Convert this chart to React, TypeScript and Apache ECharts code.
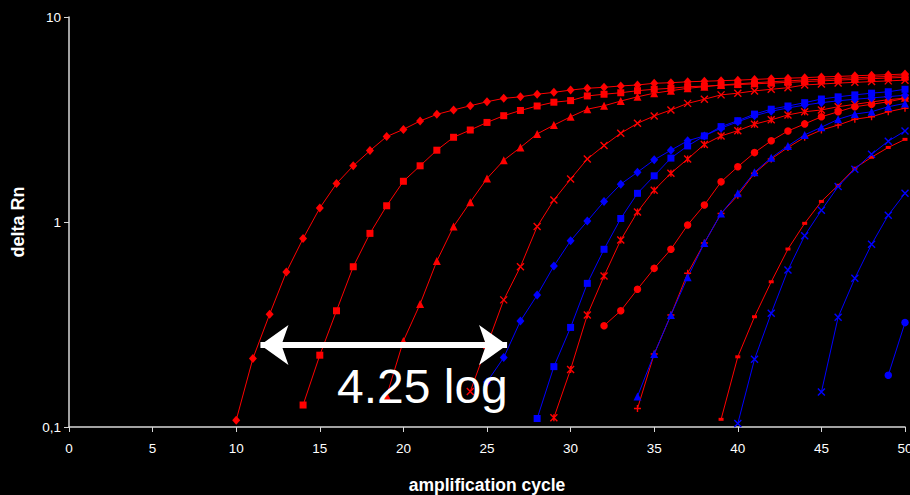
import React, { useEffect, useRef } from "react";
import * as echarts from "echarts";

const RED = "#ff0000";
const BLUE = "#0000ff";

const xTicks = [0, 5, 10, 15, 20, 25, 30, 35, 40, 45, 50];
const yTicks = [0.1, 1, 10];

// start cycle + values (delta Rn) per curve
const redDiamondStart = 10;
const redDiamond = [0.108, 0.216, 0.355, 0.57, 0.83, 1.17, 1.54, 1.88, 2.23, 2.61, 2.83, 3.11, 3.35, 3.52, 3.69, 3.86, 4.01, 4.08, 4.2, 4.29, 4.4, 4.49, 4.54, 4.61, 4.66, 4.75, 4.78, 4.83, 4.86, 4.89, 4.92, 4.96, 5.0, 5.03, 5.06, 5.1, 5.13, 5.17, 5.2, 5.23, 5.27];

const redSquareStart = 14;
const redSquare = [0.128, 0.224, 0.369, 0.605, 0.88, 1.2, 1.58, 1.88, 2.24, 2.59, 2.81, 3.06, 3.3, 3.5, 3.68, 3.84, 3.91, 4.12, 4.2, 4.27, 4.37, 4.44, 4.49, 4.57, 4.6, 4.64, 4.68, 4.72, 4.76, 4.8, 4.84, 4.88, 4.92, 4.96, 5.0, 5.04, 5.08];

const redTriangleStart = 19;
const redTriangle = [0.142, 0.263, 0.398, 0.645, 0.95, 1.25, 1.63, 2.0, 2.31, 2.69, 2.97, 3.26, 3.55, 3.69, 3.89, 4.08, 4.25, 4.37, 4.49, 4.57, 4.66, 4.72, 4.78, 4.83, 4.88, 4.93, 4.97, 5.01, 5.05, 5.09, 5.13, 5.17];

const redCrossStart = 24;
const redCross = [0.149, 0.25, 0.417, 0.605, 0.95, 1.28, 1.62, 2.03, 2.36, 2.71, 3.03, 3.29, 3.52, 3.79, 3.97, 4.17, 4.25, 4.36, 4.44, 4.52, 4.66, 4.71, 4.76, 4.8, 4.84, 4.88, 4.92];

const redStarStart = 29;
const redStar = [0.111, 0.191, 0.352, 0.545, 0.817, 1.12, 1.43, 1.73, 2.03, 2.39, 2.63, 2.79, 3.0, 3.15, 3.33, 3.45, 3.52, 3.65, 3.75, 3.85, 3.95, 4.02];

const redCircleStart = 32;
const redCircle = [0.312, 0.369, 0.47, 0.594, 0.736, 0.967, 1.21, 1.57, 1.86, 2.18, 2.49, 2.78, 3.01, 3.26, 3.45, 3.65, 3.75, 3.86, 4.01];

const redPlusStart = 34;
const redPlus = [0.123, 0.227, 0.352, 0.562, 0.79, 1.1, 1.35, 1.73, 2.03, 2.31, 2.59, 2.81, 2.97, 3.17, 3.26, 3.45, 3.59];

const redDashStart = 39;
const redDash = [0.109, 0.22, 0.345, 0.511, 0.738, 0.985, 1.26, 1.51, 1.83, 2.07, 2.31, 2.53];

const blueDiamondStart = 25;
const blueDiamond = [0.166, 0.218, 0.329, 0.44, 0.61, 0.81, 1.01, 1.26, 1.53, 1.75, 2.01, 2.24, 2.49, 2.63, 2.87, 3.08, 3.3, 3.47, 3.6, 3.72, 3.82, 3.9, 3.97, 4.03, 4.09, 4.15];

const blueSquareStart = 28;
const blueSquare = [0.11, 0.197, 0.306, 0.502, 0.736, 1.04, 1.38, 1.68, 2.05, 2.35, 2.63, 2.92, 3.12, 3.36, 3.55, 3.68, 3.82, 3.98, 4.08, 4.17, 4.25, 4.32, 4.44];

const blueTriangleStart = 34;
const blueTriangle = [0.141, 0.227, 0.352, 0.537, 0.79, 1.1, 1.38, 1.75, 2.06, 2.35, 2.66, 2.9, 3.17, 3.36, 3.45, 3.65, 3.79];

const blueCross1Start = 40;
const blueCross1 = [0.104, 0.214, 0.359, 0.583, 0.858, 1.14, 1.49, 1.81, 2.14, 2.48, 2.78];

const blueCross2Start = 45;
const blueCross2 = [0.148, 0.343, 0.531, 0.778, 1.08, 1.38];

const blueCircleStart = 49;
const blueCircle = [0.179, 0.323];

// annotation (data coordinates)
const arrowFrom = [11.45, 0.251];
const arrowTo = [26.2, 0.251];
const annotationText = "4.25 log";

const CROSS = "path://M0,0L10,10M10,0L0,10";
const STAR = "path://M0,0L10,10M10,0L0,10M5,0L5,10";
const PLUS = "path://M5,0L5,10M0,5L10,5";

function pts(start: number, vals: number[]) {
  return vals.map((v, i) => [start + i, v]);
}

function makeSeries(name: string, color: string, start: number, vals: number[], symbol: string, size: any, stroke = false) {
  return {
    name,
    type: "line",
    data: pts(start, vals),
    symbol,
    symbolSize: size,
    showSymbol: true,
    clip: false,
    lineStyle: { color, width: 1 },
    itemStyle: stroke
      ? { color: "rgba(0,0,0,0)", borderColor: color, borderWidth: 1.4 }
      : { color, borderWidth: 0 },
    emphasis: { disabled: true },
    z: 2,
  };
}

export default function App() {
  const ref = useRef<HTMLDivElement>(null);
  useEffect(() => {
    if (!ref.current) return;
    const chart = echarts.init(ref.current, null, { renderer: "svg" });
    const font = '"Liberation Sans", Arial, sans-serif';
    const series: any[] = [
      makeSeries("red diamond", RED, redDiamondStart, redDiamond, "diamond", [8, 9]),
      makeSeries("red square", RED, redSquareStart, redSquare, "rect", 7),
      makeSeries("red triangle", RED, redTriangleStart, redTriangle, "triangle", 8),
      makeSeries("red cross", RED, redCrossStart, redCross, CROSS, 7, true),
      makeSeries("red star", RED, redStarStart, redStar, STAR, 7, true),
      makeSeries("red circle", RED, redCircleStart, redCircle, "circle", 7.5),
      makeSeries("red plus", RED, redPlusStart, redPlus, PLUS, 7, true),
      makeSeries("red dash", RED, redDashStart, redDash, "rect", [5, 3]),
      makeSeries("blue diamond", BLUE, blueDiamondStart, blueDiamond, "diamond", [8, 9]),
      makeSeries("blue square", BLUE, blueSquareStart, blueSquare, "rect", 7),
      makeSeries("blue triangle", BLUE, blueTriangleStart, blueTriangle, "triangle", 8),
      makeSeries("blue cross 1", BLUE, blueCross1Start, blueCross1, CROSS, 7, true),
      makeSeries("blue cross 2", BLUE, blueCross2Start, blueCross2, CROSS, 7, true),
      makeSeries("blue circle", BLUE, blueCircleStart, blueCircle, "circle", 7.5),
      {
        name: "annotation",
        type: "line",
        data: [],
        z: 10,
        markLine: {
          silent: true,
          symbol: ["arrow", "arrow"],
          symbolSize: [30, 28],
          lineStyle: { color: "#ffffff", width: 6, type: "solid" },
          itemStyle: { color: "#ffffff" },
          label: { show: false },
          emphasis: { disabled: true },
          z: 10,
          data: [[{ coord: arrowFrom }, { coord: arrowTo }]],
        },
      },
    ];
    chart.setOption({
      animation: false,
      backgroundColor: "#000000",
      grid: { left: 69, right: 5, top: 17, bottom: 68, containLabel: false, outerBoundsMode: "none" },
      xAxis: {
        type: "value",
        min: xTicks[0],
        max: xTicks[xTicks.length - 1],
        interval: 5,
        name: "amplification cycle",
        nameLocation: "middle",
        nameGap: 49,
        nameTextStyle: { color: "#ffffff", fontWeight: "bold", fontSize: 17.5, fontFamily: font },
        axisLine: { show: true, lineStyle: { color: "#d8d8d8", width: 1.5 } },
        axisTick: { show: true, length: 5, lineStyle: { color: "#d8d8d8" } },
        axisLabel: { color: "#ffffff", fontSize: 13.5, fontFamily: font, margin: 14 },
        splitLine: { show: false },
      },
      yAxis: {
        type: "log",
        logBase: 10,
        min: yTicks[0],
        max: yTicks[yTicks.length - 1],
        name: "delta Rn",
        nameLocation: "middle",
        nameGap: 42,
        nameTextStyle: { color: "#ffffff", fontWeight: "bold", fontSize: 18, fontFamily: font },
        axisLine: { show: true, lineStyle: { color: "#d8d8d8", width: 1.5 } },
        axisTick: { show: true, length: 5, lineStyle: { color: "#d8d8d8" } },
        axisLabel: {
          color: "#ffffff",
          fontSize: 13.5,
          fontFamily: font,
          margin: 8,
          formatter: (v: number) => String(v).replace(".", ","),
        },
        splitLine: { show: false },
        minorTick: { show: false },
      },
      graphic: [
        {
          type: "text",
          x: 337,
          y: 386,
          z: 100,
          silent: true,
          style: {
            text: annotationText,
            fill: "#ffffff",
            fontSize: 48,
            fontFamily: font,
            verticalAlign: "middle",
          },
        },
      ],
      series,
    });
    return () => chart.dispose();
  }, []);
  return (
    <div
      ref={ref}
      style={{ position: "fixed", left: 0, top: 0, width: 910, height: 495, background: "#000" }}
    />
  );
}
